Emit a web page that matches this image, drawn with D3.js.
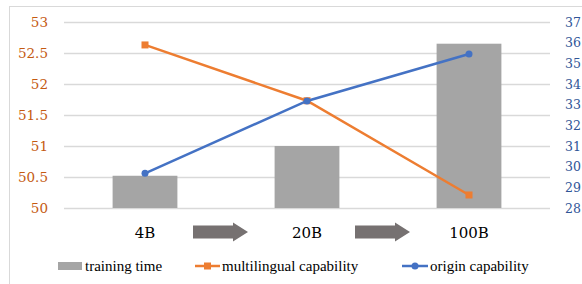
<!DOCTYPE html>
<head>
<meta charset="utf-8">
<title>Training scale chart</title>
<script type="text/javascript" src="https://d3js.org/d3.v7.min.js"></script>
<style>
    body { margin: 0; background: #fff; }
</style>
</head>
<body>
<div id="my_dataviz"></div>
<script>

// data
var categories = ["4B", "20B", "100B"];
var trainingTime = [50.52, 51.0, 52.65];
var multilingual = [52.63, 51.73, 50.21];
var origin = [29.68, 33.18, 35.45];
var leftTicks = [50, 50.5, 51, 51.5, 52, 52.5, 53];
var rightTicks = [28, 29, 30, 31, 32, 33, 34, 35, 36, 37];

var W = 582, H = 284;
var margin = {top: 22, right: 32, bottom: 76, left: 64},
    width = W - margin.left - margin.right,
    height = H - margin.top - margin.bottom;

var root = d3.select("#my_dataviz")
  .append("svg")
    .attr("width", W)
    .attr("height", H);

// chart area border
root.append("rect")
    .attr("x", 9.5).attr("y", 6.5)
    .attr("width", W).attr("height", H)
    .attr("fill", "none").attr("stroke", "#d9d9d9");

var svg = root.append("g")
    .attr("transform", "translate(" + margin.left + "," + margin.top + ")");

var x = d3.scaleBand()
    .domain(categories)
    .range([0, width])
    .paddingInner(0.6)
    .paddingOuter(0.3);

var yL = d3.scaleLinear().domain([50, 53]).range([height, 0]);
var yR = d3.scaleLinear().domain([28, 37]).range([height, 0]);

// gridlines
svg.append("g")
    .call(d3.axisLeft(yL).tickValues(leftTicks).tickSize(-width).tickFormat(""))
    .call(function(g) { g.select(".domain").remove(); })
    .selectAll("line").attr("stroke", "#d9d9d9").attr("stroke-width", 1.3);

// left axis labels
svg.append("g")
    .call(d3.axisLeft(yL).tickValues(leftTicks).tickSize(0).tickPadding(16).tickFormat(d3.format("")))
    .call(function(g) { g.select(".domain").remove(); })
    .selectAll("text")
    .attr("class", "num")
    .attr("fill", "#c55a11")
    .style("font-size", "13.5px");

// right axis labels
svg.append("g")
    .attr("transform", "translate(" + width + ",0)")
    .call(d3.axisRight(yR).tickValues(rightTicks).tickSize(0).tickPadding(15))
    .call(function(g) { g.select(".domain").remove(); })
    .selectAll("text")
    .attr("class", "num")
    .attr("fill", "#2f5597")
    .style("font-size", "12.5px");

// bars
svg.selectAll("mybar")
    .data(trainingTime)
    .enter()
    .append("rect")
    .attr("x", function(d, i) { return x(categories[i]); })
    .attr("y", function(d) { return yL(d); })
    .attr("width", x.bandwidth())
    .attr("height", function(d) { return height - yL(d); })
    .attr("fill", "#a5a5a5");

var cx = function(i) { return x(categories[i]) + x.bandwidth() / 2; };

// multilingual line (left axis)
svg.append("path")
    .datum(multilingual)
    .attr("fill", "none")
    .attr("stroke", "#ed7d31")
    .attr("stroke-width", 2.5)
    .attr("d", d3.line().x(function(d, i) { return cx(i); }).y(function(d) { return yL(d); }));

svg.selectAll("mysq")
    .data(multilingual)
    .enter()
    .append("rect")
    .attr("x", function(d, i) { return cx(i) - 3.5; })
    .attr("y", function(d) { return yL(d) - 3.5; })
    .attr("width", 7).attr("height", 7)
    .attr("fill", "#ed7d31");

// origin line (right axis)
svg.append("path")
    .datum(origin)
    .attr("fill", "none")
    .attr("stroke", "#4472c4")
    .attr("stroke-width", 2.5)
    .attr("d", d3.line().x(function(d, i) { return cx(i); }).y(function(d) { return yR(d); }));

svg.selectAll("mydot")
    .data(origin)
    .enter()
    .append("circle")
    .attr("cx", function(d, i) { return cx(i); })
    .attr("cy", function(d) { return yR(d); })
    .attr("r", 3.5)
    .attr("fill", "#4472c4");

// category labels
svg.selectAll("mycat")
    .data(categories)
    .enter()
    .append("text")
    .attr("class", "num")
    .attr("x", function(d, i) { return cx(i); })
    .attr("y", height + 30)
    .attr("text-anchor", "middle")
    .style("font-size", "15px")
    .attr("fill", "#000")
    .text(function(d) { return d; });

// arrows between categories
var arrowPts = function(x0, x1, yc) {
    var head = 15, body = 6.5, half = 9.5;
    return [[x0, yc - body], [x1 - head, yc - body], [x1 - head, yc - half], [x1, yc],
            [x1 - head, yc + half], [x1 - head, yc + body], [x0, yc + body]];
};
for (var i = 0; i < categories.length - 1; i++) {
    var mid = (cx(i) + cx(i + 1)) / 2;
    svg.append("polygon")
        .attr("points", arrowPts(mid - 33, mid + 22, height + 24).join(" "))
        .attr("fill", "#767171");
}

// legend
var legend = root.append("g").attr("transform", "translate(0,266)");
legend.append("rect").attr("x", 58).attr("y", -4).attr("width", 24).attr("height", 8).attr("fill", "#a5a5a5");
legend.append("text").attr("x", 85).attr("y", 5).style("font-size", "15px").text("training time");

legend.append("line").attr("x1", 195).attr("x2", 220).attr("y1", 0).attr("y2", 0)
    .attr("stroke", "#ed7d31").attr("stroke-width", 2.5);
legend.append("rect").attr("x", 204).attr("y", -3.5).attr("width", 7).attr("height", 7).attr("fill", "#ed7d31");
legend.append("text").attr("x", 222).attr("y", 5).style("font-size", "15px").text("multilingual capability");

legend.append("line").attr("x1", 402).attr("x2", 428).attr("y1", 0).attr("y2", 0)
    .attr("stroke", "#4472c4").attr("stroke-width", 2.5);
legend.append("circle").attr("cx", 415).attr("cy", 0).attr("r", 3.5).attr("fill", "#4472c4");
legend.append("text").attr("x", 430).attr("y", 5).style("font-size", "15px").text("origin capability");

// serif everywhere, set inline so the axis defaults do not win;
// the installed Liberation Serif has no serif digits, so numbers use DejaVu Serif
root.selectAll("text").style("font-family", "'Liberation Serif', 'DejaVu Serif', serif");
root.selectAll("text.num").style("font-family", "'DejaVu Serif', serif");

</script>
</body>
